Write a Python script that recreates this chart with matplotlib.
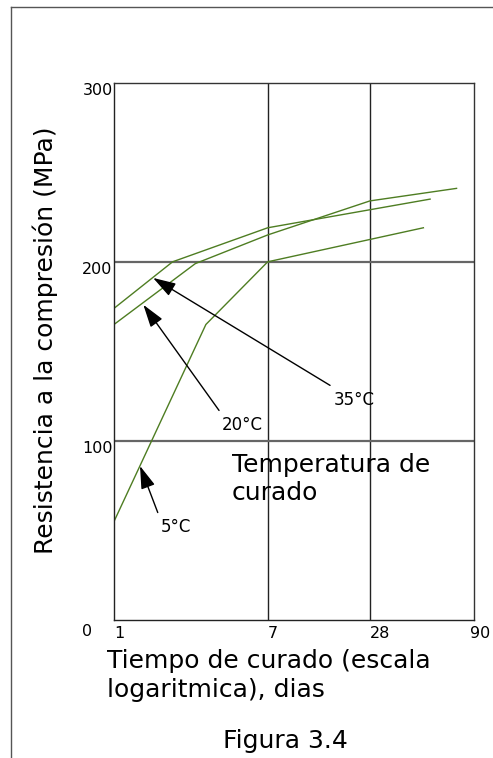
import numpy as np
import matplotlib
matplotlib.use('Agg')
from matplotlib import pyplot as plt
from matplotlib.lines import Line2D
from matplotlib.transforms import ScaledTranslation

# datos (dias, MPa)
dias_35 = [1, 2.1, 7, 55]
mpa_35 = [174, 200, 219, 235]

dias_20 = [1, 2.8, 7, 28, 74]
mpa_20 = [165, 199, 215, 234, 241]

dias_5 = [1, 3.2, 7, 51]
mpa_5 = [55, 165, 200, 219]

x_ticks = [1, 7, 28, 90]
x_tick_labels = ['1', '7', '28', '90']
y_ticks = [100, 200, 300]
y_tick_labels = ['100', '200', '300']

# flechas: (etiqueta, punta, cola, posicion texto)
flechas = [
    ('35°C', (1.64, 191), (16.3, 131), (22.6, 123)),
    ('20°C', (1.45, 176), (3.78, 117), (5.1, 109)),
    ('5°C', (1.39, 86), (1.74, 60), (2.19, 52)),
]

verde = '#4e7d22'

# escala "logaritmica" del grafico original (no exactamente log)
log_pos = np.log10(x_ticks)
frac_pos = [0.0, 0.427, 0.711, 1.0]

def fwd(x):
    x = np.clip(np.asarray(x, dtype=float), 1e-3, None)
    return np.interp(np.log10(x), log_pos, frac_pos, left=None, right=None)

def inv(f):
    return 10 ** np.interp(f, frac_pos, log_pos)


plt.rcParams['font.family'] = 'DejaVu Sans'

fig = plt.figure(figsize=(4.93, 7.58), dpi=100)
ax = fig.add_axes([114 / 493, 1 - 620 / 758, 360 / 493, 537.3 / 758])

ax.set_xscale('function', functions=(fwd, inv))
ax.set_xlim(1, 90)
ax.set_ylim(0, 300)

ax.plot(dias_35, mpa_35, color=verde, lw=1)
ax.plot(dias_20, mpa_20, color=verde, lw=1)
ax.plot(dias_5, mpa_5, color=verde, lw=1)

# rejilla
for xv in [7, 28]:
    ax.axvline(xv, color='#222222', lw=1, zorder=0)
for yv in [100, 200]:
    ax.axhline(yv, color='#666666', lw=1.6, zorder=0)

for s in ['left', 'bottom']:
    ax.spines[s].set_color('#222222')
for s in ['top', 'right']:
    ax.spines[s].set_color('#333333')
for s in ax.spines.values():
    s.set_linewidth(1)

ax.set_xticks(x_ticks)
ax.set_xticklabels(x_tick_labels, fontsize=11.5, ha='left')
ax.set_yticks(y_ticks)
ax.set_yticklabels(y_tick_labels, fontsize=11.5, va='top')
ax.xaxis.set_minor_locator(matplotlib.ticker.NullLocator())
ax.tick_params(axis='both', length=0)
ax.tick_params(axis='x', pad=4)
ax.tick_params(axis='y', pad=1)
# el 90 queda un poco a la izquierda para que no se corte
lab90 = ax.get_xticklabels()[-1]
lab90.set_transform(lab90.get_transform() + ScaledTranslation(-3 / 72, 0, fig.dpi_scale_trans))
ax.text(-0.06, -0.008, '0', transform=ax.transAxes, fontsize=11.5,
        ha='right', va='top')

for lab, punta, cola, pos in flechas:
    ax.annotate('', xy=punta, xytext=cola,
                arrowprops=dict(arrowstyle='-|>,head_length=0.7,head_width=0.22',
                                color='black', lw=1,
                                mutation_scale=20, shrinkA=0, shrinkB=0))
    ax.text(pos[0], pos[1], lab, fontsize=12, ha='center', va='center')

ax.text(0.327, 0.31, 'Temperatura de\ncurado', transform=ax.transAxes,
        fontsize=18, ha='left', va='top', linespacing=1.2)

fig.text(45 / 493, 1 - 340 / 758, 'Resistencia a la compresión (MPa)',
         rotation=90, fontsize=18, ha='center', va='center')
fig.text(106.7 / 493, 1 - 649 / 758, 'Tiempo de curado (escala\nlogaritmica), dias',
         fontsize=18, ha='left', va='top', linespacing=1.25)
fig.text(285.8 / 493, 1 - 748 / 758, 'Figura 3.4', fontsize=18,
         ha='center', va='baseline')

# marco de la pagina
fig.add_artist(Line2D([11 / 493, 1], [1 - 7 / 758, 1 - 7 / 758],
                      transform=fig.transFigure, color='#555555', lw=1))
fig.add_artist(Line2D([11 / 493, 11 / 493], [0, 1 - 7 / 758],
                      transform=fig.transFigure, color='#555555', lw=1))

fig.savefig('out.png', dpi=100)
